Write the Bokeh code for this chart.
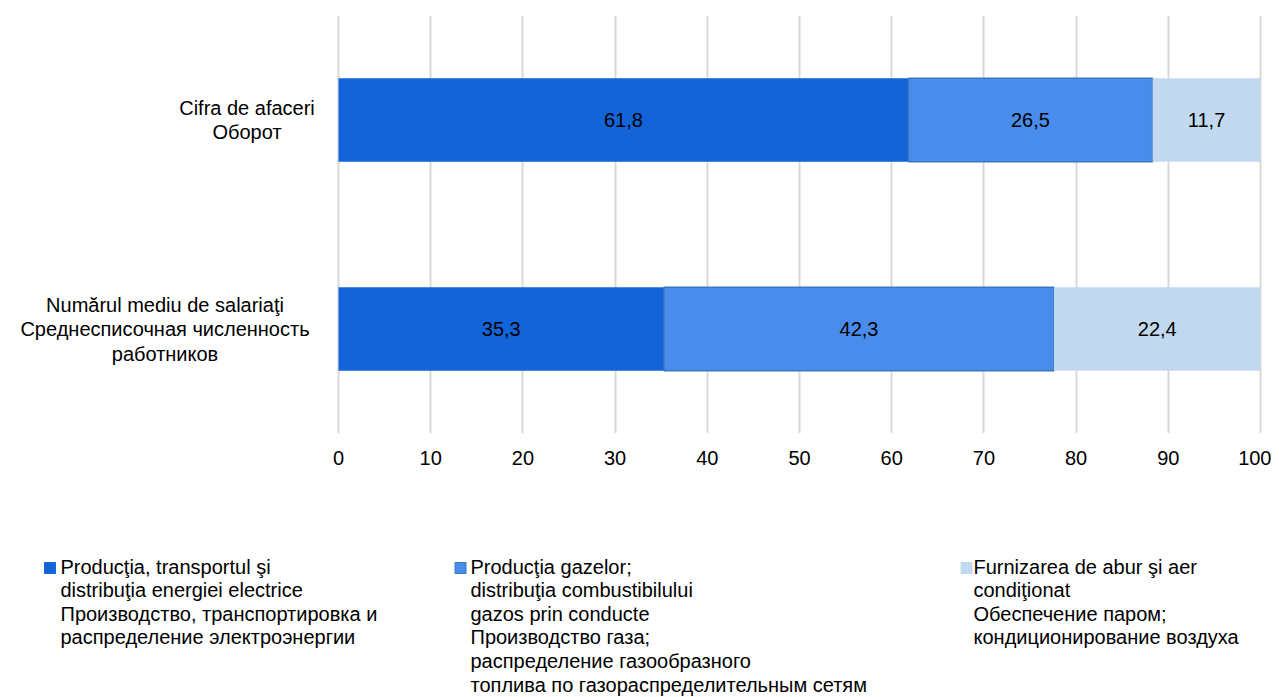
from bokeh.plotting import figure
from bokeh.layouts import column
from bokeh.models import Range1d, FixedTicker, ColumnDataSource
from bokeh.core.properties import value
from bokeh.embed import file_html
from bokeh.resources import INLINE

# ---- data ----
categories = [["Cifra de afaceri", "Оборот"],
              ["Numărul mediu de salariaţi", "Среднесписочная численность", "работников"]]
s_electric = [61.8, 35.3]
s_gas = [26.5, 42.3]
s_steam = [11.7, 22.4]
x_ticks = [0, 10, 20, 30, 40, 50, 60, 70, 80, 90, 100]
legend_texts = [
    ["Producţia, transportul şi", "distribuţia energiei electrice",
     "Производство, транспортировка и", " распределение электроэнергии"],
    ["Producţia gazelor;", "distribuţia  combustibilului", " gazos prin conducte",
     "Производство газа;", "распределение газообразного",
     "топлива  по газораспределительным сетям"],
    ["Furnizarea de abur şi aer", "condiţionat", "Обеспечение паром;",
     "кондиционирование воздуха"],
]

FONT = "Liberation Sans"
FS = "20px"
colors = ["#1264D8", "#4A8CEC", "#C2D8EE"]
borders = [None, "#3A78C0", None]

# layout in page pixels
W = 1271
H1, H2 = 489, 208
AX_L, AX_R = 338.0, 1260.0      # page x of value 0 and 100
FT, FB = 15.0, 433.0            # top / bottom of plotting band
X0, X1 = 0.0, 100.0
pxu = (AX_R - AX_L) / (X1 - X0)
xr = Range1d(X0 - AX_L / pxu, X1 + (W - AX_R) / pxu)
Y0, Y1 = 0.0, 2.0

p = figure(width=W, height=H1, output_backend="svg", toolbar_location=None,
           x_range=xr, y_range=Range1d(Y0, Y1),
           min_border_left=0, min_border_right=0,
           min_border_top=int(FT), min_border_bottom=int(H1 - FB))
p.outline_line_color = None
p.background_fill_color = "white"
p.border_fill_color = "white"

ypos = [Y1 - (i + 0.5) for i in range(len(categories))]

series = [s_electric, s_gas, s_steam]
left = [0.0] * len(categories)
for k, s in enumerate(series):
    right = [l + v for l, v in zip(left, s)]
    src = ColumnDataSource(dict(y=ypos, left=left, right=right,
                                xm=[(l + r) / 2 for l, r in zip(left, right)],
                                txt=[f"{v:.1f}".replace(".", ",") for v in s]))
    p.hbar(y="y", left="left", right="right", height=0.4, source=src,
           fill_color=colors[k],
           line_color=borders[k] if borders[k] else colors[k],
           line_width=1.5 if borders[k] else 0)
    p.text(x="xm", y="y", text="txt", source=src, text_align="center",
           text_baseline="middle", text_font=value(FONT), text_font_size=FS,
           text_color="black")
    left = right

p.xaxis.ticker = FixedTicker(ticks=x_ticks)
p.xaxis.axis_line_color = None
p.xaxis.major_tick_line_color = None
p.xaxis.minor_tick_line_color = None
p.xaxis.major_tick_out = 0
p.xaxis.major_label_standoff = 17
p.xaxis.major_label_text_font = FONT
p.xaxis.major_label_text_font_size = FS
p.xaxis.major_label_text_color = "black"
p.yaxis.visible = False
p.xgrid.grid_line_color = "#D9D9D9"
p.xgrid.grid_line_width = 2
p.ygrid.grid_line_color = None

# category labels, each line centred, placed left of the value axis
def dx(px):
    return xr.start + px / pxu

cat_centers_x = [246.5, 164.5]
LH = 24.5
py_per_unit = (FB - FT) / (Y1 - Y0)
cx, cy, ct = [], [], []
for ci, lines in enumerate(categories):
    n = len(lines)
    for li, t in enumerate(lines):
        cx.append(dx(cat_centers_x[ci]))
        cy.append(ypos[ci] + ((n - 1) / 2 - li) * LH / py_per_unit)
        ct.append(t)
p.text(x=cx, y=cy, text=ct, text_align="center", text_baseline="middle",
       text_font=value(FONT), text_font_size=FS, text_color="black")

# ---- legend figure ----
q = figure(width=W, height=H2, output_backend="svg", toolbar_location=None,
           x_range=Range1d(0, W), y_range=Range1d(H2, 0),
           min_border=0, x_axis_type=None, y_axis_type=None)
q.outline_line_color = None
q.xgrid.visible = False
q.ygrid.visible = False
q.border_fill_color = "white"

leg_marker_x = [49.5, 460, 966]
leg_text_x = [60, 470, 973]
leg_y0 = 566.0 - H1
LLH = 23.6
mx, my, mc, ml = [], [], [], []
tx, ty, tt = [], [], []
for k, lines in enumerate(legend_texts):
    mx.append(leg_marker_x[k]); my.append(leg_y0 + 1.5)
    mc.append(colors[k]); ml.append(borders[k] if borders[k] else colors[k])
    for li, t in enumerate(lines):
        tx.append(leg_text_x[k]); ty.append(leg_y0 + li * LLH); tt.append(t)
q.scatter(x=mx, y=my, marker="square", size=11, fill_color=mc, line_color=ml,
          line_width=1)
q.text(x=tx, y=ty, text=tt, text_align="left", text_baseline="middle",
       text_font=value(FONT), text_font_size=FS, text_color="black")

open("out.html", "w").write(file_html(column(p, q, spacing=0), INLINE))
